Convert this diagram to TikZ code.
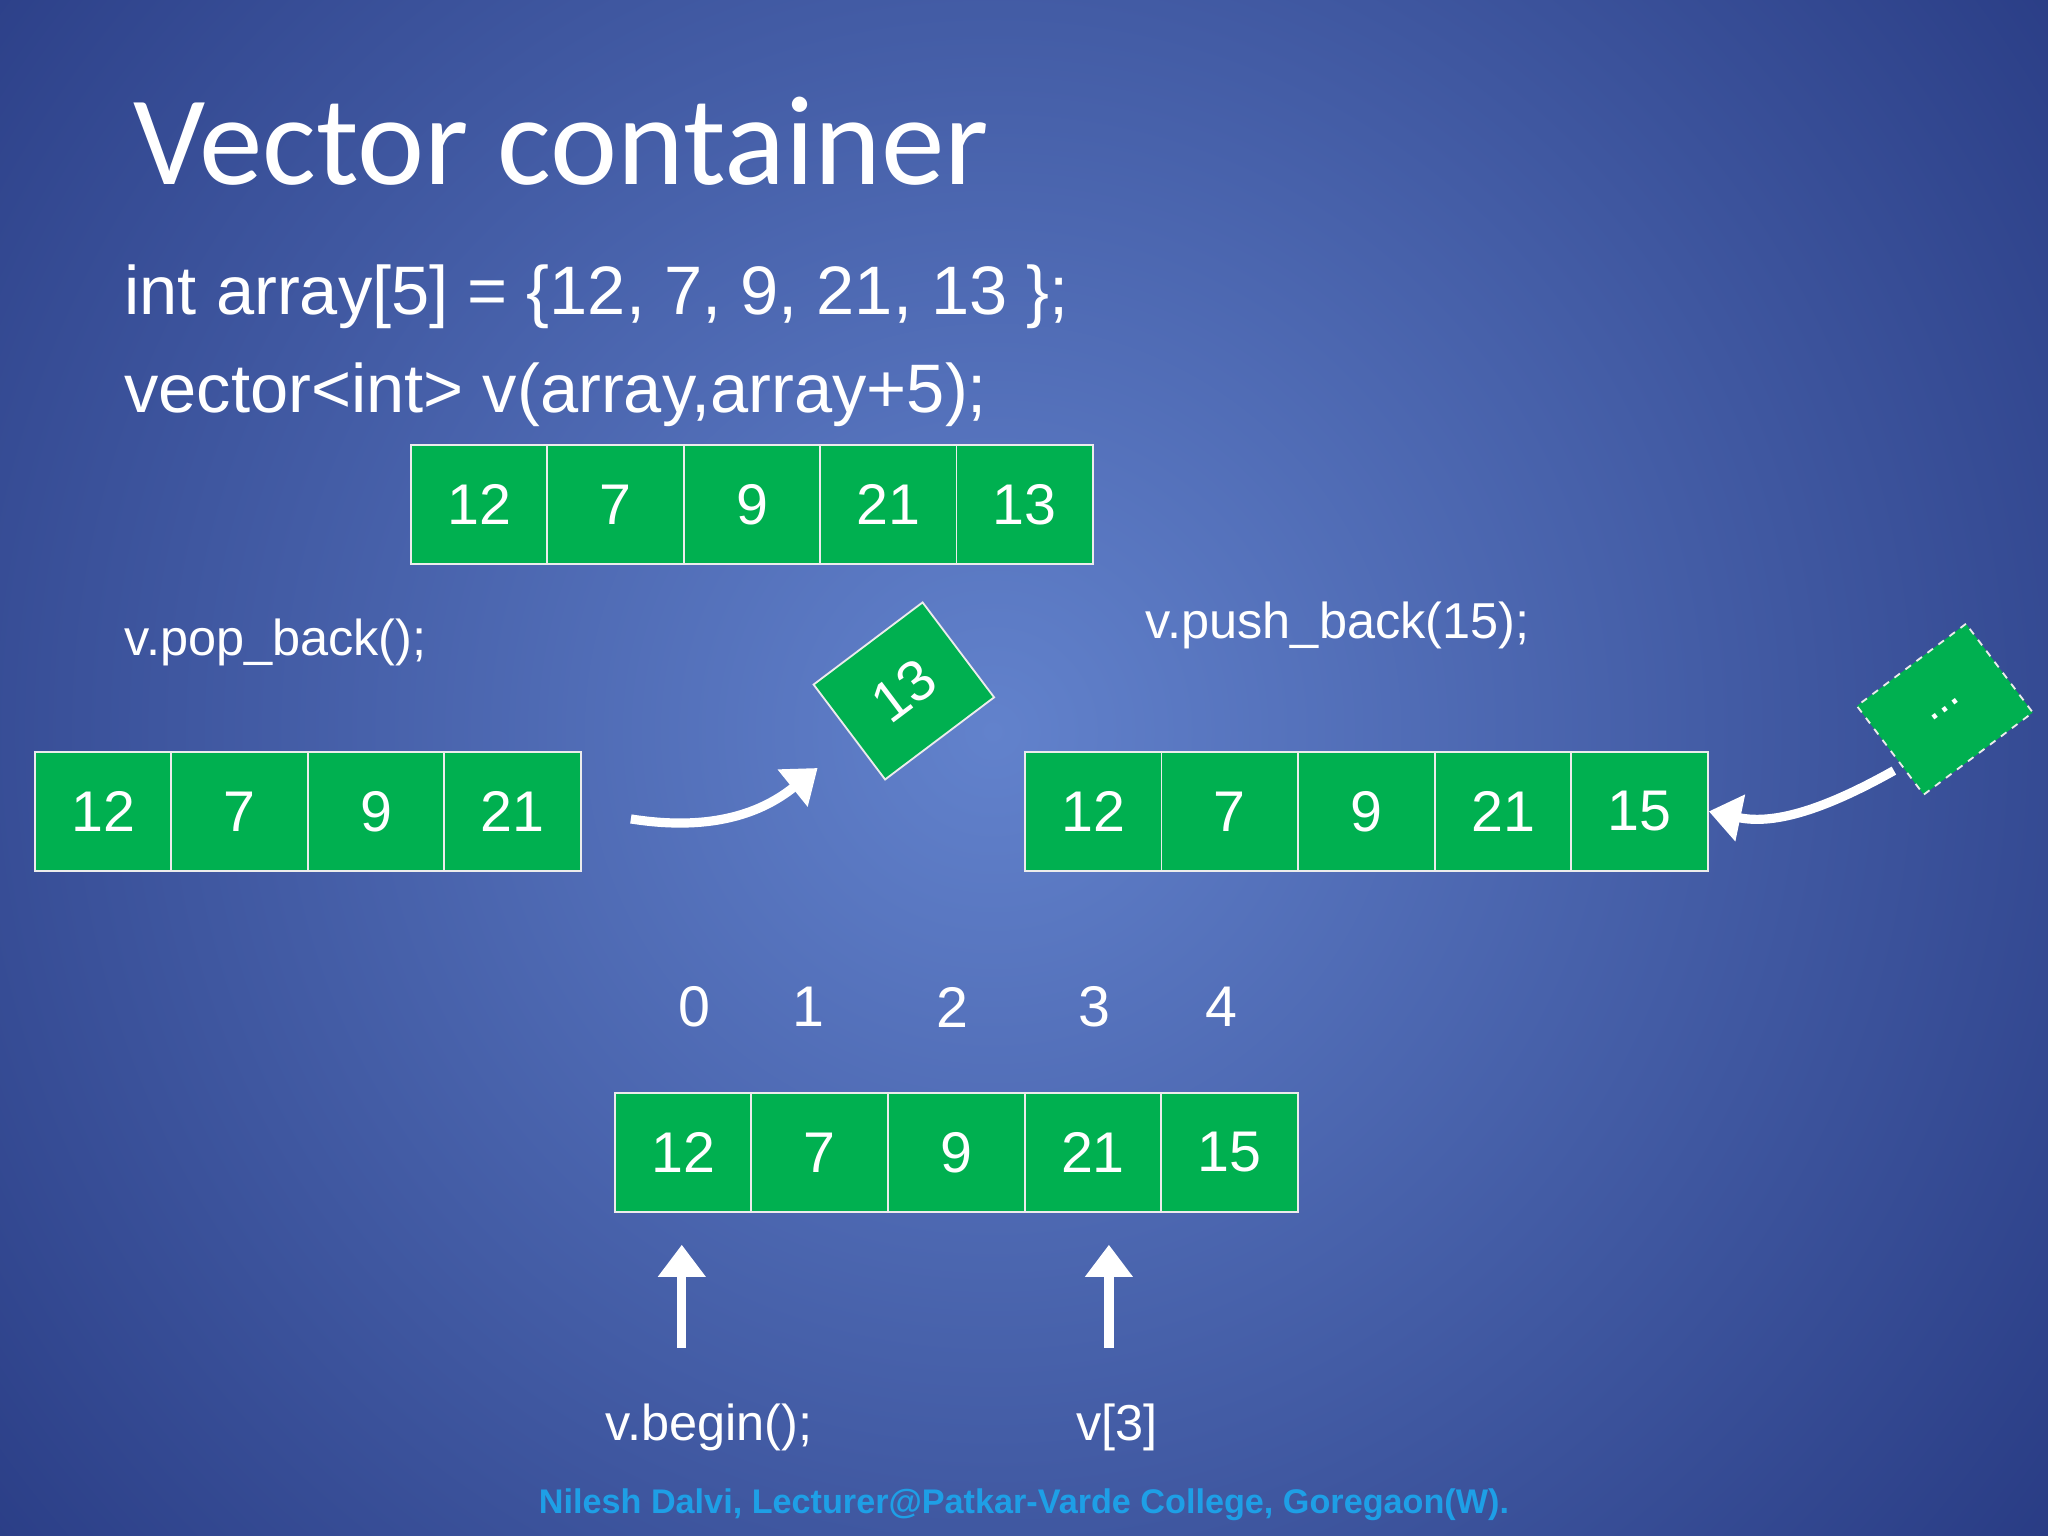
\documentclass[tikz,border=0pt]{standalone}
\usepackage{fontspec}
\setmainfont{Liberation Sans}
\newfontfamily\titlefont{Carlito}
\usetikzlibrary{arrows.meta}
\definecolor{cellg}{HTML}{00B050}
\definecolor{bgin}{HTML}{6282CC}
\definecolor{bgout}{HTML}{1C2C74}
\definecolor{foot}{HTML}{1E9FE6}
\tikzset{
 cell/.style={draw=white!85!gray,line width=0.8pt,fill=cellg,minimum width=104.5*0.02cm,minimum height=91*0.02cm,inner sep=0pt,text=white,font=\fontsize{25}{28}\selectfont,anchor=north west},
 lbl/.style={text=white,font=\fontsize{22}{25}\selectfont,anchor=west,inner sep=0pt},
 code/.style={text=white,font=\fontsize{29.9}{34}\selectfont,anchor=west,inner sep=0pt},
 idx/.style={text=white,font=\fontsize{25}{28}\selectfont,inner sep=0pt},
 bigarr/.style={draw=white,line width=4pt,-{Triangle[length=14pt,width=20pt]}},
}
\begin{document}
\begin{tikzpicture}[x=0.02cm,y=-0.02cm]
\useasboundingbox (0,0) rectangle (1568,1176);
\begin{scope}
\clip (0,0) rectangle (1568,1176);
\fill[bgout] (0,0) rectangle (1568,1176);
\shade[inner color=bgin,outer color=bgout] (760,560) circle (1250);
\end{scope}
\node[text=white,font=\titlefont\fontsize{55.4}{60}\selectfont,anchor=west,inner sep=0pt] (title) at (102,108) {Vector container};
\node[code] (c1) at (95,227) {int array[5] = \{12, 7, 9, 21, 13 \};};
\node[code] (c2) at (95,302) {vector<int> v(array,array+5);};
\foreach \v [count=\i from 0] in {12,7,9,21,13}
  \node[cell] (t\i) at (314+\i*104.4,340) {\v};
\node[lbl] (pop) at (95,492) {v.pop\_back();};
\node[lbl] (push) at (877,479) {v.push\_back(15);};
\foreach \v [count=\i from 0] in {12,7,9,21}
  \node[cell] (p\i) at (26+\i*104.5,575) {\v};
\foreach \v [count=\i from 0] in {12,7,9,21,15}
  \node[cell] (q\i) at (784+\i*104.6,575) {\v};
\node[cell,anchor=center,rotate=37] (r13) at (692,529) {13};
\node[cell,anchor=center,rotate=37,dashed,minimum height=85*0.02cm] (rdots) at (1489,543) {\fontsize{20}{22}\selectfont...};
\coordinate (popstart) at (483,627);
\coordinate (popend) at (626,588);
\draw[bigarr] (popstart) .. controls (540,636) and (580,625) .. (popend);
\coordinate (pushstart) at (1450,590);
\draw[bigarr] (pushstart) .. controls (1400,618) and (1360,632) .. (q4.east);
\foreach \x/\v [count=\i from 0] in {532/0,619/1,729/2,838/3,935/4}
  \node[idx] (i\i) at (\x,771) {\v};
\foreach \v [count=\i from 0] in {12,7,9,21,15}
  \node[cell] (b\i) at (470+\i*104.6,836) {\v};
\node[lbl,anchor=center] (vb) at (543,1093) {v.begin();};
\node[lbl,anchor=center] (v3) at (855,1093) {v[3]};
\coordinate (a1s) at (522,1032); \coordinate (a1e) at (522,953);
\coordinate (a2s) at (849,1032); \coordinate (a2e) at (849,953);
\draw[bigarr] (a1s) -- (a1e);
\draw[bigarr] (a2s) -- (a2e);
\node[text=foot,font=\bfseries\fontsize{14.9}{18}\selectfont,inner sep=0pt] (footer) at (784,1152) {Nilesh Dalvi, Lecturer@Patkar-Varde College, Goregaon(W).};
\end{tikzpicture}
\end{document}
